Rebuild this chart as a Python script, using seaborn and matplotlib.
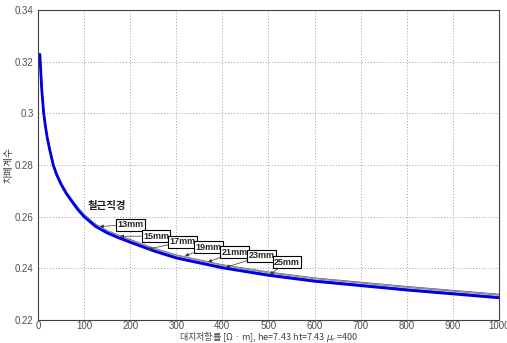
import matplotlib
matplotlib.use("Agg")
import matplotlib.pyplot as plt
import seaborn as sns
import pandas as pd

# ---- data ----
resistivity = [4, 5, 8, 12, 16, 20, 25, 33, 40, 50, 62, 75, 87, 100, 125, 150, 175, 200, 250, 300, 400, 500, 600, 800, 1000]
coef_13mm = [0.3228, 0.3195, 0.3096, 0.3007, 0.2952, 0.2908, 0.2866, 0.2805, 0.2769, 0.2731, 0.2694, 0.2662, 0.2633, 0.2608, 0.2570, 0.2546, 0.2527, 0.2511, 0.2478, 0.2451, 0.2413, 0.2385, 0.2362, 0.2329, 0.2299]
coef_15mm = [0.3228, 0.3195, 0.30958, 0.30067, 0.29517, 0.29075, 0.28653, 0.28042, 0.27682, 0.2730, 0.2693, 0.26608, 0.26318, 0.26067, 0.25687, 0.25445, 0.25255, 0.25093, 0.24763, 0.24492, 0.24112, 0.2383, 0.2360, 0.23268, 0.22968]
coef_17mm = [0.3228, 0.3195, 0.30957, 0.30063, 0.29513, 0.2907, 0.28647, 0.28033, 0.27673, 0.2729, 0.2692, 0.26597, 0.26307, 0.26053, 0.25673, 0.2543, 0.2524, 0.25077, 0.24747, 0.24473, 0.24093, 0.2381, 0.2358, 0.23247, 0.22947]
coef_19mm = [0.3228, 0.3195, 0.30955, 0.3006, 0.2951, 0.29065, 0.2864, 0.28025, 0.27665, 0.2728, 0.2691, 0.26585, 0.26295, 0.2604, 0.2566, 0.25415, 0.25225, 0.2506, 0.2473, 0.24455, 0.24075, 0.2379, 0.2356, 0.23225, 0.22925]
coef_21mm = [0.3228, 0.3195, 0.30953, 0.30057, 0.29507, 0.2906, 0.28633, 0.28017, 0.27657, 0.2727, 0.2690, 0.26573, 0.26283, 0.26027, 0.25647, 0.2540, 0.2521, 0.25043, 0.24713, 0.24437, 0.24057, 0.2377, 0.2354, 0.23203, 0.22903]
coef_23mm = [0.3228, 0.3195, 0.30952, 0.30053, 0.29503, 0.29055, 0.28627, 0.28008, 0.27648, 0.2726, 0.2689, 0.26562, 0.26272, 0.26013, 0.25633, 0.25385, 0.25195, 0.25027, 0.24697, 0.24418, 0.24038, 0.2375, 0.2352, 0.23182, 0.22882]
coef_25mm = [0.3228, 0.3195, 0.3095, 0.3005, 0.2950, 0.2905, 0.2862, 0.2800, 0.2764, 0.2725, 0.2688, 0.2655, 0.2626, 0.2600, 0.2562, 0.2537, 0.2518, 0.2501, 0.2468, 0.2440, 0.2402, 0.2373, 0.2350, 0.2316, 0.2286]
diameters = ["13mm", "15mm", "17mm", "19mm", "21mm", "23mm", "25mm"]
series = [coef_13mm, coef_15mm, coef_17mm, coef_19mm, coef_21mm, coef_23mm, coef_25mm]

# label positions (box) and arrow targets (data coords)
label_box_x = [200, 256, 314, 369, 427, 485, 540]
label_box_y = [0.2569, 0.2525, 0.2503, 0.2482, 0.2463, 0.2448, 0.2424]
arrow_tip_x = [134, 178, 238, 319, 369, 408, 503]
arrow_tip_y = [0.2562, 0.2524, 0.2474, 0.2448, 0.2425, 0.2404, 0.2376]

xticks = [0, 100, 200, 300, 400, 500, 600, 700, 800, 900, 1000]
yticks = [0.22, 0.24, 0.26, 0.28, 0.30, 0.32, 0.34]
ytick_labels = ["0.22", "0.24", "0.26", "0.28", "0.3", "0.32", "0.34"]

df = pd.concat([
    pd.DataFrame({"x": resistivity, "y": s, "d": d}) for d, s in zip(diameters, series)
])

sns.set_style("white")
plt.rcParams['font.family'] = ['Noto Sans CJK KR', 'DejaVu Sans']

fig = plt.figure(figsize=(5.07, 3.43), dpi=100)
ax = fig.add_axes([0.075, 0.067, 0.909, 0.904])

palette = {"13mm": "#4c4c6c", "15mm": "#b4b4c8", "17mm": "#6c6c8c",
           "19mm": "#cfcfdc", "21mm": "#7a7a9c", "23mm": "#2a2aa8", "25mm": "#0000e6"}
widths = {"13mm": 1.0, "15mm": 1.0, "17mm": 1.0, "19mm": 1.0, "21mm": 1.0, "23mm": 1.0, "25mm": 2.0}
for d in diameters:
    sub = df[df["d"] == d]
    sns.lineplot(data=sub, x="x", y="y", color=palette[d], lw=widths[d], ax=ax,
                 legend=False, estimator=None, sort=False)

ax.set_xlim(0, 1000)
ax.set_ylim(0.22, 0.34)
ax.set_xticks(xticks)
ax.set_yticks(yticks)
ax.set_yticklabels(ytick_labels)
ax.grid(True, linestyle=(0, (1, 2)), color="#a0a0a0", lw=0.7)
ax.tick_params(direction="in", length=3, width=0.6, colors="#404040",
               labelsize=7, labelcolor="#505050", pad=3)
ax.tick_params(axis="x", pad=1)
for sp in ax.spines.values():
    sp.set_color("#404040")
    sp.set_linewidth(0.8)
for lab in ax.get_xticklabels() + ax.get_yticklabels():
    lab.set_family(['Liberation Sans', 'DejaVu Sans'])

ax.set_xlabel(r'대지저항률 [Ω · m], he=7.43 ht=7.43 $\mu_r$ =400', fontsize=6.5,
              color="#404040")
ax.xaxis.set_label_coords(0.5, -0.054)
ax.xaxis.label.set_va("center")
ax.set_ylabel('차폐계수', fontsize=7, color="#404040")
ax.yaxis.set_label_coords(-0.063, 0.5)
ax.yaxis.label.set_va("center")

ax.text(150, 0.2640, '철근직경', fontsize=7.5, color="#222222",
        ha="center", va="center", fontweight="bold")

for d, bx, by, tx, ty in zip(diameters, label_box_x, label_box_y, arrow_tip_x, arrow_tip_y):
    ax.annotate(d, xy=(tx, ty), xytext=(bx, by), fontsize=6.5, fontweight="bold",
                family=['Liberation Sans', 'DejaVu Sans'], ha="center", va="center",
                bbox=dict(boxstyle="square,pad=0.15", fc="white", ec="black", lw=0.8),
                arrowprops=dict(arrowstyle="-|>", lw=0.5, color="#333333",
                                mutation_scale=5, shrinkA=0, shrinkB=0))

fig.savefig("out.png", dpi=100)
